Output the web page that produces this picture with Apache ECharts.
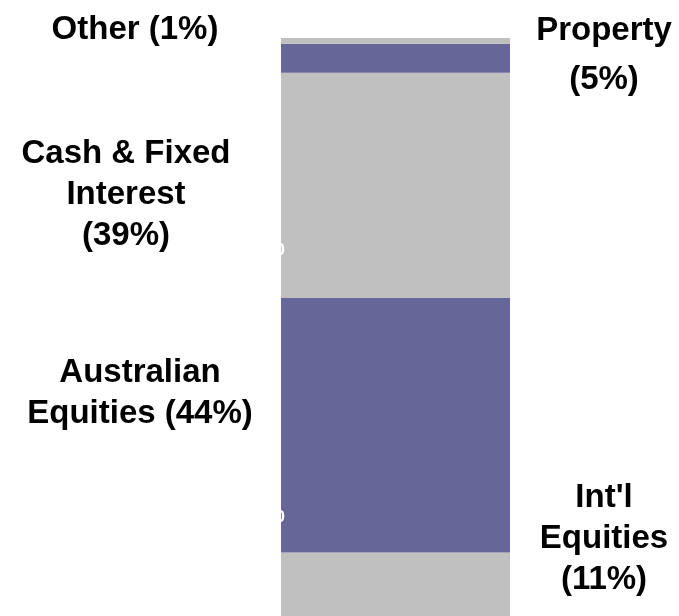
<!DOCTYPE html>
<html>
<head>
<meta charset="utf-8">
<style>
  html, body { margin: 0; padding: 0; background: #fff; }
  #chart { width: 679px; height: 616px; }
</style>
<script src="https://cdn.jsdelivr.net/npm/echarts@6/dist/echarts.min.js"></script>
</head>
<body>
<div id="chart"></div>
<script>
// asset classes, bottom of the bar first
var categories = ["Int'l Equities", "Australian Equities", "Cash & Fixed Interest", "Property", "Other"];
var values = [11, 44, 39, 5, 1];
// label text as printed (line breaks as in the original)
var labelTexts = ["Int'l\nEquities\n(11%)", "Australian\nEquities (44%)", "Cash & Fixed\nInterest\n(39%)", "Property\n(5%)", "Other (1%)"];
var colors = ["#c0c0c0", "#666699", "#c0c0c0", "#666699", "#c0c0c0"];
// where each label sits, relative to its segment's top-left corner
var labelPos = [[323, -14], [-141, 95], [-155, 122], [323, 12], [-146, -8]];
var lineHeights = [41, 41, 41, 49, 41];

var chart = echarts.init(document.getElementById("chart"));

var series = categories.map(function (name, i) {
  return {
    name: name,
    type: "bar",
    stack: "total",
    barWidth: "100%",
    silent: true,
    itemStyle: { color: colors[i] },
    label: {
      show: true,
      position: labelPos[i],
      align: "center",
      verticalAlign: "middle",
      formatter: labelTexts[i],
      fontFamily: "Liberation Sans, Arial, sans-serif",
      fontWeight: "bold",
      fontSize: 33,
      lineHeight: lineHeights[i],
      color: "#000"
    },
    data: [values[i]]
  };
});

// stray white value labels clipped at the bar's left edge in the original
var strayTexts = [
  { type: "text", right: 394, top: 242, style: { text: "0", fill: "#fff", font: "bold 17px Liberation Sans" }, z: 10 },
  { type: "text", right: 394, top: 509, style: { text: "0", fill: "#fff", font: "bold 17px Liberation Sans" }, z: 10 }
];

chart.setOption({
  animation: false,
  grid: { left: 281, right: 169, top: 38, bottom: -2 },
  xAxis: { type: "category", data: ["Allocation"], show: false },
  yAxis: { type: "value", min: 0, max: 100, show: false },
  series: series,
  graphic: strayTexts
});
</script>
</body>
</html>
